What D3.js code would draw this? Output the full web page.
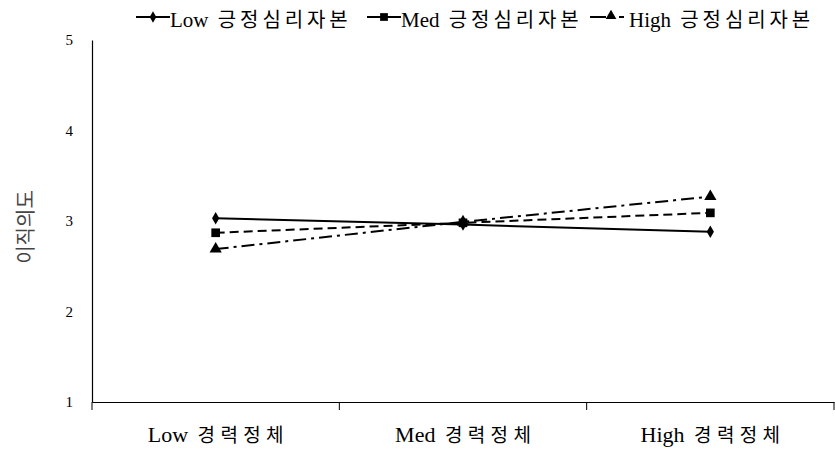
<!DOCTYPE html>
<html><head><meta charset="utf-8">
<script src="https://cdn.jsdelivr.net/npm/d3@7"></script>
<style>body{margin:0;background:#fff}svg{display:block}</style>
</head><body>
<svg id="c" width="835" height="450"></svg>
<script>
const categories = ["Low 경력정체", "Med 경력정체", "High 경력정체"];
const lowValues = [3.03, 2.96, 2.88];
const medValues = [2.87, 2.98, 3.09];
const highValues = [2.69, 2.99, 3.27];
const seriesNames = ["Low 긍정심리자본", "Med 긍정심리자본", "High 긍정심리자본"];
const yTicks = [1, 2, 3, 4, 5];
const yTitle = "이직의도";

(function() {
const svg = d3.select("#c");
const mLeft = 92, mRight = 834, mTop = 40, mBottom = 402;
const x = d3.scaleBand().domain(categories).range([mLeft, mRight]);
const y = d3.scaleLinear().domain([1, 5]).range([mBottom, mTop]);
const serif = "'Liberation Serif','Times New Roman',serif";
const kfont = "'Noto Sans CJK KR', sans-serif";

// axes
const xAxis = svg.append("g").attr("transform", `translate(0,${mBottom})`)
  .call(d3.axisBottom(x).tickSize(8).tickSizeOuter(0).tickFormat(""));
xAxis.selectAll(".tick").remove();
xAxis.select(".domain").attr("stroke", "#000").attr("stroke-width", 1.2);
const bounds = [mLeft, ...categories.map(c => x(c) + x.bandwidth())];
xAxis.selectAll("line.b").data(bounds).join("line").attr("class", "b")
  .attr("x1", d => d).attr("x2", d => d).attr("y1", 0).attr("y2", 8)
  .attr("stroke", "#000").attr("stroke-width", 1);
xAxis.selectAll("text.cl").data(categories).join("text").attr("class", "cl")
  .attr("x", d => x(d) + x.bandwidth() / 2).attr("y", 40)
  .attr("text-anchor", "middle").attr("font-size", 22).attr("fill", "#000")
  .each(function(d) {
    const parts = d.split(" ");
    d3.select(this).append("tspan").attr("font-family", serif).text(parts[0] + "\u00a0");
    d3.select(this).append("tspan").attr("font-family", kfont).attr("font-size", 19).attr("dx", 4)
      .attr("textLength", 86).attr("lengthAdjust", "spacing").text(parts[1]);
  });

const yAxis = svg.append("g").attr("transform", `translate(${mLeft},0)`)
  .call(d3.axisLeft(y).tickValues(yTicks).tickSize(0).tickSizeOuter(0).tickPadding(19).tickFormat(d3.format("d")));
yAxis.select(".domain").attr("stroke", "#000").attr("stroke-width", 1.2);
yAxis.selectAll("text").attr("font-family", serif).attr("font-size", 15).attr("fill", "#000");

svg.append("text").attr("transform", `translate(33,${(mTop + mBottom) / 2 + 6}) rotate(-90)`)
  .attr("text-anchor", "middle").attr("font-family", kfont).attr("font-size", 20)
  .attr("fill", "#444").text(yTitle);

// series
const series = [
  {name: seriesNames[0], values: lowValues, dash: null, sym: d3.symbolDiamond, size: 45},
  {name: seriesNames[1], values: medValues, dash: "9,5", sym: d3.symbolSquare, size: 75},
  {name: seriesNames[2], values: highValues, dash: "13,5,3,5", sym: d3.symbolTriangle, size: 65}
];
const line = d3.line().x((d, i) => x(categories[i]) + x.bandwidth() / 2).y(d => y(d));
series.forEach(s => {
  svg.append("path").datum(s.values).attr("d", line).attr("fill", "none")
    .attr("stroke", "#000").attr("stroke-width", 2)
    .attr("stroke-dasharray", s.dash);
  svg.selectAll(null).data(s.values).join("path")
    .attr("transform", (d, i) => `translate(${x(categories[i]) + x.bandwidth() / 2},${y(d)})`)
    .attr("d", d3.symbol(s.sym, s.size)).attr("fill", "#000");
});

// legend
const legX = [136, 367, 590];
const legTextX = [34, 34, 39];
series.forEach((s, i) => {
  const g = svg.append("g").attr("transform", `translate(${legX[i]},17)`);
  if (i === 2) {
    g.append("line").attr("x1", 0).attr("x2", 16).attr("y1", 0).attr("y2", 0).attr("stroke", "#000").attr("stroke-width", 2);
    g.append("line").attr("x1", 29).attr("x2", 34).attr("y1", 0).attr("y2", 0).attr("stroke", "#000").attr("stroke-width", 2);
    g.append("path").attr("transform", "translate(21,-1)").attr("d", d3.symbol(s.sym, 50)).attr("fill", "#000");
  } else {
    g.append("line").attr("x1", 0).attr("x2", 34).attr("y1", 0).attr("y2", 0)
      .attr("stroke", "#000").attr("stroke-width", 2);
    g.append("path").attr("transform", "translate(17,0)").attr("d", d3.symbol(s.sym, i === 0 ? 38 : 60)).attr("fill", "#000");
  }
  const t = g.append("text").attr("x", legTextX[i]).attr("y", 10).attr("font-size", 21).attr("fill", "#000");
  const parts = s.name.split(" ");
  t.append("tspan").attr("font-family", serif).text(parts[0] + "\u00a0");
  t.append("tspan").attr("font-family", kfont).attr("font-size", 20).attr("dx", 4)
    .attr("textLength", 130).attr("lengthAdjust", "spacing").text(parts[1]);
});
})();
</script>
</body></html>
